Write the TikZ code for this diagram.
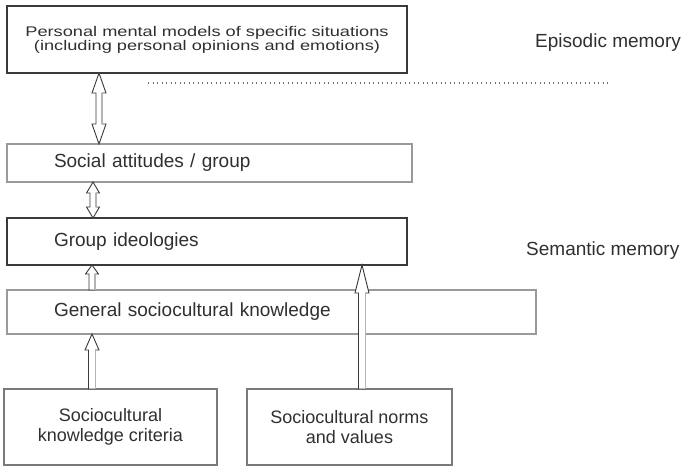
\documentclass[tikz,border=0pt]{standalone}
\usepackage{fontspec}
\setmainfont{Liberation Sans}
\newfontfamily\wideF[FakeStretch=1.3]{Liberation Sans}
\usetikzlibrary{calc}
\definecolor{dk}{HTML}{3A3A3A}
\definecolor{md}{HTML}{7A7A7A}
\definecolor{lt}{HTML}{9A9A9A}
\definecolor{txt}{HTML}{303030}
\definecolor{shd}{HTML}{B4B4B4}
\definecolor{dotc}{HTML}{707070}
\tikzset{
  box/.style={rectangle, inner sep=0pt, outer sep=0pt, anchor=north west, text=txt, fill=white},
  darkbox/.style={box, draw=dk, line width=1.2pt},
  lightbox/.style={box, draw=lt, line width=1.1pt},
  midbox/.style={box, draw=md, line width=1.1pt},
  bigtext/.style={font=\fontsize{19}{22}\selectfont},
  smalltext/.style={font=\fontsize{18}{20}\selectfont},
  arrowfill/.style={fill=white, draw=dk, line width=0.9pt, line join=miter},
  shadeline/.style={draw=shd, line width=1.2pt},
  sidelabel/.style={anchor=west, inner sep=0pt, text=txt, font=\fontsize{19}{22}\selectfont},
  dotline/.style={draw=dotc, line width=1.1pt, dash pattern=on 1.1pt off 3.4pt}
}
% double-headed hollow arrow: #1 top, #2 bottom, #3 head length, #4 head half-width, #5 shaft half-width
\newcommand\dblarrow[5]{%
  \filldraw[arrowfill] (#1) -- ($(#1)+(#4,#3)$) -- ($(#1)+(#5,#3)$) -- ($(#2)+(#5,-#3)$) -- ($(#2)+(#4,-#3)$) -- (#2)
    -- ($(#2)+(-#4,-#3)$) -- ($(#2)+(-#5,-#3)$) -- ($(#1)+(-#5,#3)$) -- ($(#1)+(-#4,#3)$) -- cycle;
  \draw[shadeline] ($(#1)+(#5,#3)$) -- ($(#2)+(#5,-#3)$);
}
% single-headed hollow arrow pointing up: #1 tip, #2 tail
\newcommand\sglarrow[5]{%
  \filldraw[arrowfill] (#1) -- ($(#1)+(#4,#3)$) -- ($(#1)+(#5,#3)$) -- ($(#2)+(#5,0)$) -- ($(#2)+(-#5,0)$)
    -- ($(#1)+(-#5,#3)$) -- ($(#1)+(-#4,#3)$) -- cycle;
  \draw[shadeline] ($(#1)+(#5,#3)$) -- ($(#2)+(#5,0)$);
}
\begin{document}
\begin{tikzpicture}[x=1pt, y=-1pt]
\useasboundingbox[fill=white] (0,0) rectangle (683,467);

% boxes
\node[darkbox, minimum width=400pt, minimum height=67pt, align=center,
      font=\wideF\fontsize{14}{12.5}\selectfont] (b1) at (7,6)
  {Personal mental models of specific situations\\(including personal opinions and emotions)};
\node[lightbox, bigtext, minimum width=405pt, minimum height=38pt, inner xsep=47pt, text width=311pt, align=left] (b2) at (7,144)
  {Social attitudes / group};
\node[darkbox, bigtext, minimum width=400pt, minimum height=47pt, inner xsep=47pt, text width=306pt, align=left] (b3) at (7,218)
  {Group ideologies};
\node[lightbox, bigtext, minimum width=529pt, minimum height=44pt, inner xsep=47pt, text width=435pt, align=left] (b4) at (7,290)
  {General sociocultural knowledge};
\node[midbox, smalltext, minimum width=213pt, minimum height=76pt, align=center] (b5) at (4,389)
  {Sociocultural\\knowledge criteria};
\node[midbox, smalltext, minimum width=205pt, minimum height=76pt, align=center] (b6) at (247,389)
  {Sociocultural norms\\and values};

% side labels
\node[sidelabel] (epi) at (535,43) {Episodic memory};
\node[sidelabel] (sem) at (526,251) {Semantic memory};

% dotted separator
\coordinate (d1) at (148,83);
\coordinate (d2) at (608,83);
\draw[dotline] (d1) -- (d2);

% arrows
\coordinate (a1t) at ($(b1.south west)+(92,0)$);
\coordinate (a1b) at ($(b2.north west)+(92,0)$);
\dblarrow{a1t}{a1b}{20}{7}{3}

\coordinate (a2t) at ($(b2.south west)+(86,0)$);
\coordinate (a2b) at ($(b3.north west)+(86,0)$);
\dblarrow{a2t}{a2b}{11}{6.5}{3}

\coordinate (a3t) at ($(b3.south west)+(85,0)$);
\coordinate (a3b) at ($(b4.north west)+(85,0)$);
\sglarrow{a3t}{a3b}{9}{6.5}{3}

\coordinate (a4t) at ($(b4.south west)+(85,0)$);
\coordinate (a4b) at ($(b5.north west)+(88,0)$);
\sglarrow{a4t}{a4b}{16}{7}{3.5}

\coordinate (a5t) at ($(b3.south west)+(355,0)$);
\coordinate (a5b) at ($(b6.north west)+(115,0)$);
\sglarrow{a5t}{a5b}{28}{7}{3.5}
\end{tikzpicture}
\end{document}
